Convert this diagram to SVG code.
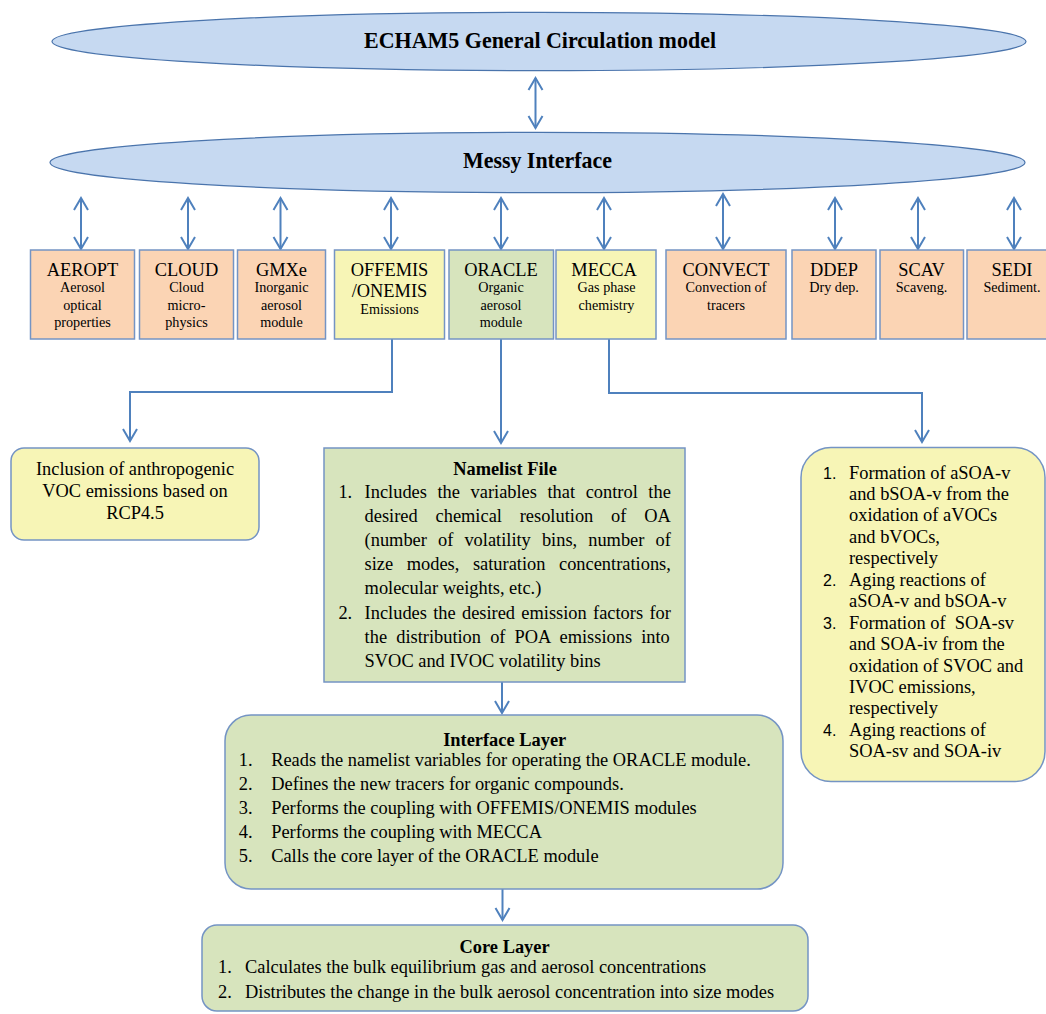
<svg xmlns="http://www.w3.org/2000/svg" width="1046" height="1014" viewBox="0 0 1046 1014">
<style>
  text { font-family: 'Liberation Serif', 'Times New Roman', serif; fill: #000; }
  .ell { fill: #C6D9F1; stroke: #4A74AC; stroke-width: 1.2; }
  .box { stroke: #7494C4; stroke-width: 1.5; }
  .org { fill: #FBD4B4; }
  .yel { fill: #F7F5B6; }
  .grn { fill: #D7E4BD; }
  .t { font-size: 18.4px; text-anchor: middle; }
  .s { font-size: 14.2px; text-anchor: middle; }
  .b { font-size: 18.4px; }
  .h { font-size: 18.4px; font-weight: bold; text-anchor: middle; }
  .big { font-size: 24px; font-weight: bold; text-anchor: middle; }
  .con { fill: none; stroke: #4F81BD; stroke-width: 2; }
  .num { font-family: 'Liberation Sans', Arial, sans-serif; font-size: 16px; }
</style>
<defs>
  <marker id="ah" viewBox="-14 -9 16 18" refX="0" refY="0" markerWidth="16" markerHeight="18" markerUnits="userSpaceOnUse" orient="auto-start-reverse">
    <path d="M-12,-7 L0,0 L-12,7" fill="none" stroke="#4F81BD" stroke-width="2"/>
  </marker>
</defs>

<g id="connectors">
  <path class="con" d="M535.5,78 V128" marker-start="url(#ah)" marker-end="url(#ah)"/>
  <path class="con" d="M81,198 V249" marker-start="url(#ah)" marker-end="url(#ah)"/>
  <path class="con" d="M188,198 V249" marker-start="url(#ah)" marker-end="url(#ah)"/>
  <path class="con" d="M280.5,198 V249" marker-start="url(#ah)" marker-end="url(#ah)"/>
  <path class="con" d="M391,198 V249" marker-start="url(#ah)" marker-end="url(#ah)"/>
  <path class="con" d="M501,198 V249" marker-start="url(#ah)" marker-end="url(#ah)"/>
  <path class="con" d="M604,198 V249" marker-start="url(#ah)" marker-end="url(#ah)"/>
  <path class="con" d="M723,194 V249" marker-start="url(#ah)" marker-end="url(#ah)"/>
  <path class="con" d="M835,198 V249" marker-start="url(#ah)" marker-end="url(#ah)"/>
  <path class="con" d="M918,198 V249" marker-start="url(#ah)" marker-end="url(#ah)"/>
  <path class="con" d="M1014,198 V249" marker-start="url(#ah)" marker-end="url(#ah)"/>
  <path class="con" d="M392,339 V392 H130 V441" marker-end="url(#ah)"/>
  <path class="con" d="M501,339 V443" marker-end="url(#ah)"/>
  <path class="con" d="M609,339 V393 H922 V442" marker-end="url(#ah)"/>
  <path class="con" d="M502,682 V713" marker-end="url(#ah)"/>
  <path class="con" d="M502.5,889 V920" marker-end="url(#ah)"/>
</g>

<g id="echam5">
  <ellipse class="ell" cx="539" cy="41.5" rx="487" ry="29.2"/>
  <text class="big" x="540" y="48" textLength="352" lengthAdjust="spacingAndGlyphs">ECHAM5 General Circulation model</text>
</g>

<g id="messy">
  <ellipse class="ell" cx="537.5" cy="162.5" rx="487.5" ry="30.2"/>
  <text class="big" x="537.5" y="168" textLength="149" lengthAdjust="spacingAndGlyphs">Messy Interface</text>
</g>

<g id="aeropt">
  <rect class="box org" x="30.5" y="250" width="104" height="89"/>
  <text class="t" x="82.5" y="276">AEROPT</text>
  <text class="s" x="82.5" y="292">Aerosol</text>
  <text class="s" x="82.5" y="309.5">optical</text>
  <text class="s" x="82.5" y="327">properties</text>
</g>
<g id="cloud">
  <rect class="box org" x="139.5" y="250" width="94" height="89"/>
  <text class="t" x="186.5" y="276">CLOUD</text>
  <text class="s" x="186.5" y="292">Cloud</text>
  <text class="s" x="186.5" y="309.5">micro-</text>
  <text class="s" x="186.5" y="327">physics</text>
</g>
<g id="gmxe">
  <rect class="box org" x="237.5" y="250" width="88" height="89"/>
  <text class="t" x="281.5" y="276">GMXe</text>
  <text class="s" x="281.5" y="292">Inorganic</text>
  <text class="s" x="281.5" y="309.5">aerosol</text>
  <text class="s" x="281.5" y="327">module</text>
</g>
<g id="offemis">
  <rect class="box yel" x="334.5" y="250" width="110" height="89"/>
  <text class="t" x="389.5" y="276">OFFEMIS</text>
  <text class="t" x="389.5" y="297">/ONEMIS</text>
  <text class="s" x="389.5" y="314">Emissions</text>
</g>
<g id="oracle">
  <rect class="box grn" x="449" y="250" width="104.5" height="89"/>
  <text class="t" x="501" y="276">ORACLE</text>
  <text class="s" x="501" y="292">Organic</text>
  <text class="s" x="501" y="309.5">aerosol</text>
  <text class="s" x="501" y="327">module</text>
</g>
<g id="mecca">
  <rect class="box yel" x="556" y="250" width="100" height="89"/>
  <text class="t" x="604" y="276">MECCA</text>
  <text class="s" x="606.5" y="292">Gas phase</text>
  <text class="s" x="606.5" y="309.5">chemistry</text>
</g>
<g id="convect">
  <rect class="box org" x="666" y="250" width="120" height="89"/>
  <text class="t" x="726" y="276">CONVECT</text>
  <text class="s" x="726" y="292">Convection of</text>
  <text class="s" x="726" y="309.5">tracers</text>
</g>
<g id="ddep">
  <rect class="box org" x="792" y="250" width="84" height="89"/>
  <text class="t" x="834" y="276">DDEP</text>
  <text class="s" x="834" y="292">Dry dep.</text>
</g>
<g id="scav">
  <rect class="box org" x="880" y="250" width="83.5" height="89"/>
  <text class="t" x="921.5" y="276">SCAV</text>
  <text class="s" x="921.5" y="292">Scaveng.</text>
</g>
<g id="sedi">
  <rect class="box org" x="967" y="250" width="90" height="89"/>
  <text class="t" x="1012" y="276">SEDI</text>
  <text class="s" x="1012" y="292">Sediment.</text>
</g>

<g id="inclusion">
  <rect class="box yel" x="11" y="448" width="248" height="92" rx="13"/>
  <text class="t" x="135" y="475">Inclusion of anthropogenic</text>
  <text class="t" x="135" y="497">VOC emissions based on</text>
  <text class="t" x="135" y="519">RCP4.5</text>
</g>

<g id="namelist">
  <rect class="box grn" x="324" y="448" width="361" height="234"/>
  <text class="h" x="505" y="475">Namelist File</text>
  <text class="b" x="338.4" y="497.5">1.</text>
  <text class="b" x="364.6" y="497.5" word-spacing="5.99">Includes the variables that control the</text>
  <text class="b" x="364.6" y="521.5" word-spacing="13.23">desired chemical resolution of OA</text>
  <text class="b" x="364.6" y="545.5" word-spacing="6.49">(number of volatility bins, number of</text>
  <text class="b" x="364.6" y="569.5" word-spacing="8.96">size modes, saturation concentrations,</text>
  <text class="b" x="364.6" y="594">molecular weights, etc.)</text>
  <text class="b" x="338.4" y="619">2.</text>
  <text class="b" x="364.6" y="619" word-spacing="1.70">Includes the desired emission factors for</text>
  <text class="b" x="364.6" y="643" word-spacing="4.54">the distribution of POA emissions into</text>
  <text class="b" x="364.6" y="667">SVOC and IVOC volatility bins</text>
</g>

<g id="soa">
  <rect class="box yel" x="801" y="447.5" width="244" height="334" rx="30"/>
  <text class="num" x="823" y="478.5">1.</text>
  <text class="b" x="849" y="478.5">Formation of aSOA-v</text>
  <text class="b" x="849" y="499.95">and bSOA-v from the</text>
  <text class="b" x="849" y="521.4">oxidation of aVOCs</text>
  <text class="b" x="849" y="542.85">and bVOCs,</text>
  <text class="b" x="849" y="564.3">respectively</text>
  <text class="num" x="823" y="585.75">2.</text>
  <text class="b" x="849" y="585.75">Aging reactions of</text>
  <text class="b" x="849" y="607.2">aSOA-v and bSOA-v</text>
  <text class="num" x="823" y="628.65">3.</text>
  <text class="b" x="849" y="628.65" xml:space="preserve">Formation of  SOA-sv</text>
  <text class="b" x="849" y="650.1">and SOA-iv from the</text>
  <text class="b" x="849" y="671.55">oxidation of SVOC and</text>
  <text class="b" x="849" y="693">IVOC emissions,</text>
  <text class="b" x="849" y="714.45">respectively</text>
  <text class="num" x="823" y="735.9">4.</text>
  <text class="b" x="849" y="735.9">Aging reactions of</text>
  <text class="b" x="849" y="757.35">SOA-sv and SOA-iv</text>
</g>

<g id="interface-layer">
  <rect class="box grn" x="225" y="715" width="558" height="174" rx="26"/>
  <text class="h" x="504.7" y="746">Interface Layer</text>
  <text class="b" x="238.7" y="766">1.</text>
  <text class="b" x="271.2" y="766">Reads the namelist variables for operating the ORACLE module.</text>
  <text class="b" x="238.7" y="790">2.</text>
  <text class="b" x="271.2" y="790">Defines the new tracers for organic compounds.</text>
  <text class="b" x="238.7" y="814">3.</text>
  <text class="b" x="271.2" y="814">Performs the coupling with OFFEMIS/ONEMIS modules</text>
  <text class="b" x="238.7" y="838">4.</text>
  <text class="b" x="271.2" y="838">Performs the coupling with MECCA</text>
  <text class="b" x="238.7" y="862">5.</text>
  <text class="b" x="271.2" y="862">Calls the core layer of the ORACLE module</text>
</g>

<g id="core-layer">
  <rect class="box grn" x="202" y="925" width="606" height="86" rx="15"/>
  <text class="h" x="504.6" y="952.5">Core Layer</text>
  <text class="b" x="218" y="973">1.</text>
  <text class="b" x="245" y="973">Calculates the bulk equilibrium gas and aerosol concentrations</text>
  <text class="b" x="218" y="998">2.</text>
  <text class="b" x="245" y="998">Distributes the change in the bulk aerosol concentration into size modes</text>
</g>
</svg>
